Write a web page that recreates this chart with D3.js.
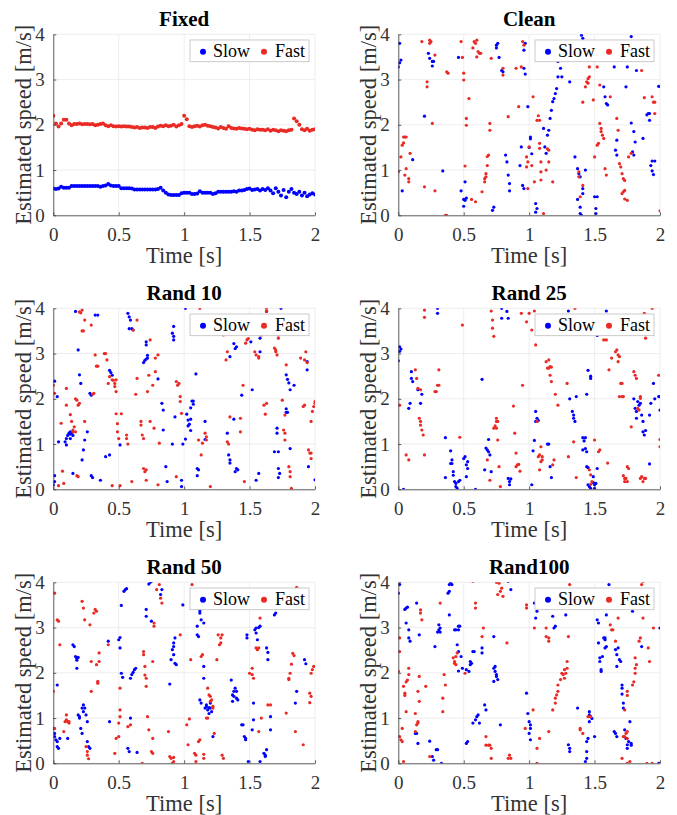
<!DOCTYPE html>
<html>
<head>
  <meta charset="utf-8">
  <title>speed-scatter</title>
  <style>
    body { margin: 0; background: #fff; }
    text { font-family: "Liberation Serif", serif; }
    .axis path, .axis line { stroke: #3a3a3a; stroke-width: 0.8; }
    .axis text { fill: #333; font-size: 19px; font-family: "Liberation Serif", serif; }
  </style>
  <script src="https://cdn.jsdelivr.net/npm/d3@7"></script>
</head>
<body>
<script type="text/javascript">

  // ---- data ----
  var xTicks = [0, 0.5, 1, 1.5, 2];
  var yTicks = [0, 1, 2, 3, 4];
  var seriesNames = ["Slow", "Fast"];
  var seriesColors = ["#0000ff", "#ea2a24"];

  // Fixed: sampled time [s] and both speeds [m/s]
  var fixedTime = [0,0.02,0.04,0.06,0.08,0.1,0.12,0.14,0.16,0.18,0.2,0.22,0.24,0.26,0.28,0.3,0.32,0.34,0.36,0.38,
    0.4,0.42,0.44,0.46,0.48,0.5,0.52,0.54,0.56,0.58,0.6,0.62,0.64,0.66,0.68,0.7,0.72,0.74,0.76,0.78,
    0.8,0.82,0.84,0.86,0.88,0.9,0.92,0.94,0.96,0.98,1,1.02,1.04,1.06,1.08,1.1,1.12,1.14,1.16,1.18,
    1.2,1.22,1.24,1.26,1.28,1.3,1.32,1.34,1.36,1.38,1.4,1.42,1.44,1.46,1.48,1.5,1.52,1.54,1.56,1.58,
    1.6,1.62,1.64,1.66,1.68,1.7,1.72,1.74,1.76,1.78,1.8,1.82,1.84,1.86,1.88,1.9,1.92,1.94,1.96,1.98,2];
  var fixedFast = [2.20,2.03,1.96,2.03,2.11,2.11,2.03,1.99,2.02,2.02,2.03,2.01,2.02,2.02,2.01,2.02,1.99,2.00,2.02,2.03,
    1.99,1.97,1.99,1.97,1.96,1.97,1.96,1.97,1.96,1.96,1.95,1.94,1.95,1.93,1.94,1.94,1.93,1.95,1.95,1.93,
    1.96,1.98,1.97,1.99,1.97,1.98,2.00,1.96,1.99,2.02,2.20,2.12,1.97,1.95,1.97,1.98,1.96,1.99,2.00,1.98,
    1.97,1.95,1.94,1.92,1.95,1.93,1.91,1.97,1.93,1.92,1.91,1.93,1.92,1.91,1.90,1.91,1.89,1.88,1.90,1.89,
    1.89,1.88,1.90,1.87,1.89,1.88,1.86,1.88,1.87,1.86,1.88,1.89,2.14,2.08,2.00,1.90,1.88,1.91,1.87,1.89,1.90];
  var fixedSlow = [0.59,0.58,0.59,0.63,0.61,0.61,0.61,0.65,0.65,0.65,0.65,0.65,0.65,0.65,0.65,0.65,0.65,0.65,0.63,0.65,
    0.66,0.69,0.66,0.65,0.65,0.65,0.60,0.60,0.60,0.60,0.59,0.57,0.57,0.57,0.57,0.57,0.57,0.57,0.57,0.57,
    0.58,0.61,0.55,0.50,0.46,0.45,0.45,0.45,0.45,0.49,0.50,0.50,0.50,0.47,0.47,0.48,0.53,0.50,0.50,0.50,
    0.50,0.47,0.49,0.52,0.52,0.52,0.52,0.52,0.52,0.53,0.52,0.55,0.55,0.56,0.58,0.59,0.56,0.57,0.58,0.55,
    0.58,0.56,0.60,0.55,0.49,0.60,0.52,0.44,0.56,0.40,0.52,0.58,0.50,0.47,0.52,0.44,0.50,0.42,0.46,0.49,0.46];

  // scatter panels: [time, speed]
  var cleanSlow = [[0.01,3.80],[0.00,3.28],[0.01,3.37],[0.02,3.43],[0.03,0.54],[0.11,1.23],[0.20,2.19],[0.23,3.58],[0.24,3.47],[0.26,3.40],
    [0.26,3.30],[0.27,3.40],[0.34,0.98],[0.46,3.49],[0.48,0.54],[0.50,0.35],[0.50,0.20],[0.51,0.74],[0.51,0.33],[0.52,0.38],
    [0.72,0.11],[0.73,0.18],[0.75,3.70],[0.75,3.76],[0.76,3.80],[0.77,3.49],[0.79,3.20],[0.80,3.17],[0.82,1.33],[0.83,1.18],
    [0.84,0.89],[0.85,0.70],[0.85,0.54],[0.93,1.10],[0.94,1.51],[0.95,0.66],[0.96,0.59],[0.96,3.65],[0.97,3.80],[0.96,3.25],
    [0.97,3.12],[0.99,2.40],[1.00,1.50],[1.01,1.73],[1.01,1.69],[1.02,1.36],[1.05,0.07],[1.05,0.26],[1.06,0.15],[1.11,1.92],
    [1.13,1.37],[1.12,1.51],[1.14,1.77],[1.15,1.88],[1.16,2.14],[1.17,2.32],[1.18,2.51],[1.19,2.58],[1.20,2.69],[1.21,2.80],
    [1.22,3.06],[1.22,3.40],[1.24,3.25],[1.25,3.06],[1.31,2.95],[1.35,1.29],[1.37,1.03],[1.38,0.92],[1.39,0.85],[1.37,0.35],
    [1.39,0.18],[1.39,0.04],[1.40,0.00],[1.41,0.48],[1.41,0.59],[1.43,1.00],[1.40,3.98],[1.41,3.91],[1.50,0.41],[1.51,0.15],
    [1.51,0.04],[1.52,0.41],[1.57,2.84],[1.58,2.62],[1.59,2.47],[1.60,2.44],[1.65,3.28],[1.66,1.44],[1.67,1.66],[1.67,1.33],
    [1.74,2.84],[1.75,3.28],[1.78,3.95],[1.78,2.04],[1.80,1.85],[1.81,1.62],[1.82,3.20],[1.80,1.33],[1.79,1.40],[1.87,1.70],
    [1.90,2.22],[1.91,2.25],[1.92,2.25],[1.92,2.10],[1.93,1.10],[1.94,1.20],[1.94,0.98],[1.95,0.90],[1.96,1.20],[1.99,2.85]];
  var cleanFast = [[0.00,0.96],[0.02,1.29],[0.03,1.55],[0.04,1.73],[0.05,1.73],[0.06,1.73],[0.04,1.60],[0.05,0.89],[0.06,1.03],[0.08,0.74],
    [0.08,0.81],[0.09,1.37],[0.18,3.84],[0.20,0.63],[0.22,2.95],[0.22,2.84],[0.24,3.87],[0.25,3.84],[0.24,3.80],[0.26,2.03],
    [0.28,3.54],[0.28,0.54],[0.37,3.17],[0.38,3.14],[0.36,0.00],[0.37,0.00],[0.48,3.84],[0.49,3.49],[0.50,3.14],[0.50,2.99],
    [0.51,1.09],[0.52,2.14],[0.52,1.99],[0.54,2.58],[0.56,0.35],[0.59,0.30],[0.57,3.70],[0.58,3.84],[0.59,3.80],[0.60,3.87],
    [0.60,3.50],[0.61,3.62],[0.62,3.58],[0.63,3.58],[0.64,0.52],[0.66,0.74],[0.66,0.81],[0.67,0.85],[0.67,0.92],[0.68,1.10],
    [0.68,1.30],[0.69,1.33],[0.70,1.88],[0.70,2.03],[0.71,3.47],[0.80,3.25],[0.80,3.10],[0.84,2.18],[0.90,3.25],[0.92,2.40],
    [0.94,3.28],[0.95,3.84],[0.96,3.76],[0.98,1.29],[0.99,1.18],[0.98,1.07],[0.99,0.59],[1.00,1.51],[1.02,1.10],[1.03,2.62],
    [1.04,0.74],[1.06,2.10],[1.07,2.20],[1.08,2.10],[1.08,1.48],[1.08,1.59],[1.09,1.18],[1.09,0.96],[1.09,0.78],[1.11,0.04],
    [1.13,1.00],[1.14,1.47],[1.15,1.44],[1.15,1.18],[1.18,0.74],[1.38,0.96],[1.38,0.85],[1.39,0.41],[1.41,0.66],[1.41,2.50],
    [1.43,2.84],[1.44,2.95],[1.45,2.92],[1.45,3.02],[1.46,3.06],[1.46,3.28],[1.49,2.55],[1.50,1.29],[1.52,3.28],[1.52,1.55],
    [1.53,1.59],[1.54,2.88],[1.54,2.03],[1.55,1.92],[1.55,1.85],[1.56,1.77],[1.57,1.70],[1.58,1.03],[1.59,0.89],[1.62,2.62],
    [1.67,2.14],[1.68,1.88],[1.69,1.14],[1.70,1.07],[1.71,0.92],[1.72,0.81],[1.73,0.77],[1.71,0.48],[1.72,0.52],[1.73,0.55],
    [1.73,0.36],[1.75,0.33],[1.78,1.37],[1.76,1.29],[1.86,3.20],[1.88,2.60],[1.94,2.62],[1.95,2.50],[1.96,2.50],[1.96,2.25],[2.00,0.10]];

  var rand10Slow = [[0.00,0.10],[0.01,0.17],[0.01,0.30],[0.01,2.39],[0.03,2.05],[0.04,1.05],[0.09,1.05],[0.10,0.98],[0.10,1.12],[0.11,1.19],
    [0.12,1.24],[0.13,1.22],[0.13,1.27],[0.14,1.24],[0.15,1.19],[0.13,1.12],[0.15,0.35],[0.17,3.93],[0.19,3.08],[0.20,2.53],
    [0.21,2.34],[0.22,0.65],[0.23,0.87],[0.24,1.09],[0.26,1.27],[0.28,2.12],[0.29,2.08],[0.29,0.30],[0.30,0.26],[0.32,3.85],
    [0.34,3.85],[0.36,0.20],[0.40,0.72],[0.43,0.76],[0.43,2.63],[0.44,2.58],[0.45,2.52],[0.51,0.98],[0.57,3.89],[0.58,3.81],
    [0.59,3.74],[0.58,3.55],[0.60,3.55],[0.61,3.52],[0.69,2.80],[0.71,2.88],[0.72,2.96],[0.72,2.90],[0.70,2.85],[0.71,3.19],
    [0.71,3.26],[0.80,2.44],[0.83,1.90],[0.84,1.75],[0.84,1.31],[0.86,0.50],[0.87,0.17],[0.91,1.00],[0.92,3.60],[0.91,3.45],
    [0.92,3.38],[0.92,3.30],[0.93,1.60],[0.98,0.06],[0.98,0.20],[0.99,1.00],[1.01,1.11],[1.01,4.00],[1.02,1.66],[1.03,1.53],
    [1.03,1.40],[1.04,1.44],[1.05,1.55],[1.05,1.30],[1.05,1.80],[1.06,1.95],[1.07,1.88],[1.07,1.95],[1.09,2.55],[1.10,0.30],
    [1.10,0.46],[1.11,0.43],[1.16,1.10],[1.16,1.50],[1.33,1.24],[1.34,0.76],[1.35,0.65],[1.35,0.58],[1.35,2.93],[1.38,3.22],
    [1.39,3.11],[1.40,3.15],[1.38,1.55],[1.40,0.46],[1.41,0.43],[1.39,0.39],[1.44,2.08],[1.52,2.20],[1.51,3.26],[1.55,0.20],
    [1.57,0.35],[1.58,3.04],[1.58,3.34],[1.59,3.45],[1.62,3.52],[1.63,3.93],[1.69,0.83],[1.71,1.24],[1.72,0.83],[1.71,1.35],
    [1.72,0.46],[1.72,0.26],[1.73,0.35],[1.74,4.00],[1.78,2.53],[1.79,2.43],[1.80,2.35],[1.81,2.20],[1.78,1.70],[1.79,1.70],
    [1.78,1.78],[1.81,0.90],[1.84,2.30],[1.94,2.64],[1.94,2.82],[1.95,0.50],[2.00,0.21]];
  var rand10Fast = [[0.00,2.30],[0.01,2.12],[0.04,0.08],[0.07,0.40],[0.06,1.46],[0.08,0.13],[0.10,1.86],[0.10,2.23],[0.13,1.65],[0.14,1.50],
    [0.15,1.31],[0.15,1.27],[0.16,1.38],[0.17,1.27],[0.17,2.00],[0.18,1.97],[0.19,1.86],[0.20,1.90],[0.18,0.30],[0.19,0.28],
    [0.20,3.92],[0.22,3.96],[0.21,3.90],[0.22,3.50],[0.23,3.50],[0.24,3.74],[0.24,1.50],[0.29,3.63],[0.30,2.10],[0.31,2.12],
    [0.32,2.97],[0.33,2.72],[0.34,2.72],[0.39,3.00],[0.40,3.00],[0.41,2.86],[0.42,2.34],[0.43,2.49],[0.45,2.42],[0.46,2.41],
    [0.47,2.34],[0.47,2.27],[0.48,2.42],[0.48,2.16],[0.45,0.08],[0.51,0.08],[0.48,1.67],[0.49,1.45],[0.49,1.27],[0.50,1.12],
    [0.52,1.67],[0.56,1.20],[0.56,1.12],[0.57,1.00],[0.60,0.17],[0.61,3.52],[0.64,3.74],[0.63,2.10],[0.64,2.45],[0.67,1.50],
    [0.67,1.42],[0.68,1.20],[0.69,1.12],[0.69,0.46],[0.70,0.39],[0.71,0.43],[0.71,0.20],[0.72,2.16],[0.73,2.52],[0.74,1.50],
    [0.74,3.30],[0.76,2.30],[0.77,1.35],[0.78,2.60],[0.78,2.90],[0.80,2.97],[0.80,0.10],[0.81,1.02],[0.94,0.28],[0.94,2.38],
    [0.95,2.30],[0.96,2.34],[0.97,2.05],[0.97,1.94],[0.98,1.68],[1.11,1.09],[1.14,1.02],[1.12,4.00],[1.13,0.76],[1.16,1.24],
    [1.17,1.16],[1.17,1.09],[1.20,0.06],[1.30,3.41],[1.32,2.86],[1.33,3.04],[1.33,1.05],[1.34,1.00],[1.35,1.60],[1.43,1.57],
    [1.43,1.27],[1.45,2.30],[1.46,0.17],[1.47,3.23],[1.48,3.30],[1.49,3.33],[1.54,3.04],[1.55,2.97],[1.57,2.93],[1.57,2.90],
    [1.59,3.41],[1.61,3.48],[1.61,1.86],[1.63,1.90],[1.62,1.66],[1.63,4.00],[1.63,3.93],[1.69,3.12],[1.70,3.04],[1.70,3.08],
    [1.71,2.97],[1.72,3.41],[1.72,3.34],[1.76,1.31],[1.77,1.24],[1.77,1.09],[1.75,1.97],[1.77,1.64],[1.78,2.75],[1.80,0.50],
    [1.81,0.39],[1.81,0.28],[1.82,0.02],[1.89,2.90],[1.91,1.83],[1.92,1.86],[1.92,2.86],[1.94,2.80],[1.93,3.04],[1.95,0.87],
    [1.96,0.80],[1.97,0.68],[1.97,0.80],[1.97,1.50],[1.98,1.72],[1.99,1.83],[2.00,1.90],[2.00,1.94]];

  var rand25Slow = [[0.00,2.84],[0.01,3.05],[0.01,3.15],[0.02,3.10],[0.04,0.00],[0.08,1.79],[0.09,1.90],[0.10,2.45],[0.10,2.60],[0.11,2.38],
    [0.15,2.20],[0.17,1.90],[0.18,2.10],[0.30,4.00],[0.30,3.89],[0.36,0.26],[0.36,1.14],[0.40,0.85],[0.41,0.65],[0.40,0.57],
    [0.41,0.57],[0.42,0.39],[0.42,0.31],[0.43,0.17],[0.44,0.13],[0.44,0.06],[0.45,0.02],[0.46,0.17],[0.47,0.20],[0.50,0.68],
    [0.51,0.72],[0.52,0.54],[0.53,0.46],[0.52,0.28],[0.53,0.61],[0.59,0.00],[0.64,2.43],[0.66,0.43],[0.67,0.91],[0.68,0.87],
    [0.69,1.10],[0.69,0.83],[0.70,0.76],[0.71,0.39],[0.79,4.00],[0.79,3.78],[0.83,3.93],[0.84,3.78],[0.84,0.24],[0.85,0.17],
    [0.85,0.10],[0.86,0.23],[1.02,0.10],[1.03,0.85],[1.04,1.08],[1.05,1.50],[1.05,1.72],[1.06,1.57],[1.06,1.50],[1.07,1.52],
    [1.14,1.00],[1.15,1.00],[1.16,0.50],[1.17,0.26],[1.30,3.94],[1.31,2.00],[1.33,1.72],[1.34,1.64],[1.34,1.57],[1.35,1.50],
    [1.36,2.05],[1.41,1.14],[1.42,1.07],[1.43,1.14],[1.41,0.87],[1.43,0.90],[1.44,0.83],[1.44,0.50],[1.45,0.48],[1.44,2.10],
    [1.45,2.63],[1.47,2.50],[1.47,2.45],[1.45,0.10],[1.46,0.06],[1.47,0.02],[1.49,0.15],[1.49,0.28],[1.50,0.10],[1.50,0.02],
    [1.51,0.13],[1.52,0.46],[1.52,3.40],[1.59,3.94],[1.80,2.00],[1.81,1.79],[1.82,1.57],[1.82,1.72],[1.83,1.94],[1.84,1.86],
    [1.85,1.90],[1.86,1.64],[1.87,1.50],[1.87,1.27],[1.88,1.20],[1.89,1.30],[1.92,1.64],[1.93,1.90],[1.95,2.34],[1.96,2.00],
    [1.92,0.56],[1.99,2.05],[2.00,2.05],[2.00,1.75]];
  var rand25Fast = [[0.01,1.86],[0.06,0.76],[0.08,0.65],[0.13,2.64],[0.14,2.45],[0.15,2.23],[0.17,2.20],[0.16,1.57],[0.17,1.50],[0.17,1.42],
    [0.18,1.31],[0.19,1.20],[0.20,0.76],[0.20,3.96],[0.20,3.80],[0.28,2.16],[0.29,2.16],[0.30,2.30],[0.31,2.30],[0.31,2.64],
    [0.47,1.15],[0.49,3.63],[0.68,0.65],[0.70,0.20],[0.71,3.94],[0.72,3.74],[0.72,3.56],[0.73,3.38],[0.73,1.35],[0.74,1.40],
    [0.75,1.50],[0.75,1.57],[0.76,1.50],[0.75,1.35],[0.76,1.09],[0.77,0.50],[0.78,0.06],[0.88,1.84],[0.89,1.24],[0.90,0.80],
    [0.90,0.50],[0.91,0.54],[0.92,0.55],[0.93,0.40],[0.94,3.89],[0.95,2.30],[0.98,3.70],[1.00,3.89],[1.02,3.52],[1.04,3.94],
    [1.05,3.19],[1.06,1.50],[1.07,0.72],[1.08,0.76],[1.09,0.61],[1.10,0.72],[1.10,0.65],[1.08,0.43],[1.09,0.94],[1.13,2.82],
    [1.14,2.68],[1.15,2.68],[1.16,2.71],[1.17,2.70],[1.16,2.52],[1.17,2.38],[1.15,2.86],[1.18,0.54],[1.19,0.65],[1.20,2.10],
    [1.22,1.86],[1.30,0.72],[1.29,2.34],[1.34,1.05],[1.35,4.00],[1.36,0.26],[1.46,0.43],[1.47,0.32],[1.48,0.17],[1.47,0.11],
    [1.50,1.09],[1.53,0.83],[1.54,0.87],[1.57,3.30],[1.59,3.30],[1.60,0.58],[1.61,2.64],[1.63,2.90],[1.66,3.04],[1.67,3.08],
    [1.68,2.97],[1.69,2.93],[1.68,2.82],[1.70,2.34],[1.71,2.34],[1.69,2.05],[1.71,2.05],[1.72,2.05],[1.72,0.30],[1.73,0.24],
    [1.73,0.17],[1.74,0.24],[1.75,0.17],[1.75,0.50],[1.76,0.46],[1.78,1.38],[1.80,2.60],[1.81,2.52],[1.82,2.45],[1.83,1.79],
    [1.84,1.75],[1.85,2.05],[1.85,2.01],[1.85,0.24],[1.86,0.28],[1.87,0.17],[1.88,0.24],[1.89,0.24],[1.89,3.34],[1.88,3.89],
    [1.94,4.00],[1.99,2.52],[2.00,1.10],[2.00,0.94]];

  var rand50Slow = [[0.00,0.77],[0.01,0.66],[0.01,0.59],[0.02,0.52],[0.03,0.48],[0.04,0.33],[0.03,0.37],[0.03,1.73],[0.05,0.55],[0.11,0.55],
    [0.15,2.62],[0.16,2.58],[0.17,2.36],[0.18,2.32],[0.19,2.34],[0.18,2.28],[0.18,2.10],[0.19,1.07],[0.20,1.03],[0.20,1.00],
    [0.21,0.77],[0.22,0.66],[0.22,1.22],[0.23,1.14],[0.23,1.29],[0.24,1.22],[0.25,1.07],[0.26,0.92],[0.26,0.48],[0.27,0.37],
    [0.28,0.33],[0.43,0.92],[0.42,2.70],[0.52,3.49],[0.50,2.73],[0.51,2.78],[0.51,2.55],[0.52,1.99],[0.53,1.90],[0.54,3.80],
    [0.55,3.84],[0.56,3.86],[0.57,0.33],[0.58,0.26],[0.59,1.00],[0.59,1.88],[0.60,1.96],[0.61,2.01],[0.62,2.07],[0.63,2.10],
    [0.64,0.24],[0.71,3.40],[0.71,3.25],[0.73,3.96],[0.74,4.00],[0.75,4.02],[0.75,3.14],[0.83,3.84],[0.82,3.73],[0.89,1.75],
    [0.90,2.29],[0.91,2.51],[0.92,2.58],[0.92,2.66],[0.93,2.77],[0.92,2.40],[0.93,2.21],[0.94,2.18],[0.99,3.50],[1.10,2.84],
    [1.10,3.03],[1.11,2.80],[1.12,3.32],[1.12,3.37],[1.13,3.17],[1.15,3.10],[1.12,1.40],[1.13,1.33],[1.15,2.14],[1.15,1.88],
    [1.16,1.22],[1.17,1.25],[1.17,1.29],[1.18,1.18],[1.19,1.10],[1.19,1.23],[1.20,1.33],[1.20,1.22],[1.21,1.14],[1.22,0.59],
    [1.36,1.84],[1.37,1.51],[1.38,1.48],[1.37,1.37],[1.38,1.59],[1.39,1.66],[1.40,1.59],[1.40,1.44],[1.41,1.40],[1.44,0.85],
    [1.45,0.85],[1.46,0.59],[1.47,0.52],[1.47,0.55],[1.48,2.77],[1.48,2.84],[1.49,0.04],[1.52,0.74],[1.53,0.96],[1.53,1.33],
    [1.54,2.95],[1.55,2.99],[1.55,2.88],[1.56,2.73],[1.57,3.00],[1.58,3.03],[1.58,0.04],[1.61,0.22],[1.62,0.18],[1.63,0.30],
    [1.62,0.15],[1.63,2.55],[1.64,2.45],[1.64,2.29],[1.66,0.74],[1.66,1.03],[1.69,3.28],[1.70,3.32],[1.85,1.33],[1.86,1.59],
    [1.92,2.29],[1.93,2.20]];
  var rand50Fast = [[0.00,1.59],[0.01,3.76],[0.01,0.77],[0.03,3.17],[0.04,3.14],[0.05,2.62],[0.08,0.70],[0.09,0.92],[0.10,0.96],[0.10,1.07],
    [0.11,0.92],[0.12,0.89],[0.12,0.92],[0.22,3.58],[0.23,3.43],[0.24,3.17],[0.25,0.37],[0.26,0.18],[0.27,0.10],[0.26,0.26],
    [0.28,3.06],[0.29,1.59],[0.29,2.25],[0.31,3.32],[0.32,3.40],[0.33,3.36],[0.33,2.18],[0.34,1.81],[0.34,1.77],[0.35,2.25],
    [0.35,2.44],[0.42,2.62],[0.47,0.22],[0.48,0.55],[0.50,0.59],[0.50,0.89],[0.51,1.03],[0.51,1.18],[0.51,1.66],[0.57,0.81],
    [0.59,0.85],[0.68,0.00],[0.69,2.40],[0.69,2.47],[0.70,2.14],[0.70,1.95],[0.71,1.88],[0.71,1.70],[0.72,1.03],[0.73,0.74],
    [0.75,0.26],[0.76,0.22],[0.76,2.25],[0.76,0.55],[0.77,3.03],[0.77,3.10],[0.79,3.84],[0.81,3.95],[0.82,3.65],[0.83,3.54],
    [0.88,0.70],[0.89,0.15],[0.90,0.11],[0.91,0.00],[0.92,0.04],[0.92,0.13],[0.97,2.84],[1.02,0.85],[1.03,0.41],[1.04,0.98],
    [1.05,2.29],[1.06,3.95],[1.08,0.22],[1.09,0.04],[1.09,0.18],[1.11,0.48],[1.12,0.52],[1.13,2.36],[1.14,2.40],[1.15,0.20],
    [1.15,0.11],[1.17,1.00],[1.18,1.00],[1.18,1.66],[1.19,1.51],[1.20,1.37],[1.20,1.48],[1.21,1.40],[1.22,1.22],[1.22,1.26],
    [1.23,0.66],[1.25,2.29],[1.26,2.84],[1.27,2.62],[1.28,2.66],[1.28,2.77],[1.29,2.84],[1.29,0.18],[1.30,0.11],[1.50,1.99],
    [1.52,1.96],[1.53,1.88],[1.52,2.10],[1.55,2.55],[1.56,2.51],[1.57,2.55],[1.58,3.21],[1.59,1.00],[1.57,0.70],[1.64,1.29],
    [1.66,1.29],[1.78,1.11],[1.80,1.88],[1.80,1.85],[1.81,1.99],[1.82,2.19],[1.83,2.43],[1.84,2.38],[1.85,0.70],[1.86,3.89],
    [1.91,0.41],[1.96,1.55],[1.97,1.48],[1.96,1.34],[1.97,1.99],[1.98,2.07],[1.99,2.14]];

  var rand100Slow = [[0.00,3.76],[0.01,3.95],[0.05,3.40],[0.06,3.43],[0.07,3.45],[0.06,3.10],[0.08,2.95],[0.08,2.77],[0.09,2.70],[0.13,0.66],
    [0.14,0.66],[0.14,3.54],[0.15,0.44],[0.16,2.84],[0.24,0.49],[0.26,0.15],[0.27,0.07],[0.28,2.58],[0.29,0.30],[0.30,0.30],
    [0.30,2.90],[0.31,3.06],[0.31,2.95],[0.32,2.90],[0.32,2.99],[0.33,0.00],[0.38,3.76],[0.39,3.80],[0.39,3.95],[0.40,3.98],
    [0.41,3.95],[0.39,3.28],[0.43,2.95],[0.44,2.95],[0.46,3.03],[0.46,2.95],[0.47,3.03],[0.45,2.62],[0.46,2.04],[0.46,2.47],
    [0.48,2.36],[0.49,2.10],[0.52,2.07],[0.52,0.44],[0.53,0.48],[0.54,2.03],[0.55,2.25],[0.56,2.21],[0.55,2.18],[0.57,2.47],
    [0.58,2.47],[0.57,0.89],[0.59,0.96],[0.60,1.03],[0.61,1.07],[0.62,0.89],[0.64,2.55],[0.64,2.44],[0.66,1.29],[0.67,1.18],
    [0.73,2.80],[0.73,2.10],[0.74,2.14],[0.74,2.03],[0.75,1.96],[0.75,1.92],[0.73,1.81],[0.76,1.85],[0.78,0.85],[0.84,4.02],
    [0.86,3.84],[0.98,1.55],[0.99,1.10],[1.00,0.92],[1.01,0.77],[1.01,0.52],[1.00,0.66],[1.01,0.85],[1.04,3.54],[1.05,3.21],
    [1.06,3.36],[1.13,3.43],[1.17,3.50],[1.18,3.25],[1.19,2.99],[1.20,3.03],[1.28,3.28],[1.30,0.41],[1.31,0.33],[1.31,0.26],
    [1.37,1.22],[1.43,0.04],[1.44,0.11],[1.44,0.48],[1.44,0.26],[1.45,0.55],[1.46,1.14],[1.46,1.07],[1.47,1.03],[1.48,0.99],
    [1.46,0.92],[1.50,0.59],[1.52,3.17],[1.53,3.10],[1.53,2.66],[1.54,2.33],[1.55,2.07],[1.55,2.03],[1.54,2.25],[1.56,2.36],
    [1.57,2.77],[1.58,2.77],[1.58,2.73],[1.58,2.55],[1.59,2.58],[1.59,3.28],[1.61,3.95],[1.65,0.70],[1.66,0.66],[1.67,0.59],
    [1.66,2.51],[1.67,2.40],[1.68,2.55],[1.69,2.29],[1.70,2.25],[1.67,2.14],[1.71,1.73],[1.71,1.66],[1.72,1.33],[1.72,1.22],
    [1.71,1.53],[1.73,0.74],[1.74,0.55],[1.75,0.41],[1.75,0.33],[1.76,0.48],[1.77,0.92],[1.78,0.44],[1.78,0.40],[1.79,3.36],
    [1.86,2.58],[1.99,0.00],[2.00,2.99]];
  var rand100Fast = [[0.00,2.03],[0.01,2.77],[0.01,2.47],[0.01,0.59],[0.02,0.52],[0.03,0.48],[0.03,0.77],[0.04,0.04],[0.04,1.70],[0.05,1.55],
    [0.05,1.50],[0.06,1.14],[0.06,1.80],[0.07,1.84],[0.08,1.96],[0.08,2.10],[0.13,0.70],[0.13,1.10],[0.14,0.85],[0.15,0.92],
    [0.15,0.89],[0.15,1.59],[0.16,1.37],[0.16,1.92],[0.17,3.39],[0.17,3.32],[0.18,3.17],[0.21,1.70],[0.24,0.15],[0.32,3.54],
    [0.34,1.44],[0.34,1.14],[0.35,1.96],[0.36,1.73],[0.42,2.33],[0.43,2.25],[0.44,2.36],[0.45,2.44],[0.43,2.21],[0.44,2.18],
    [0.51,1.99],[0.57,4.02],[0.59,3.43],[0.59,3.54],[0.64,2.80],[0.65,2.99],[0.67,0.59],[0.67,0.40],[0.69,0.40],[0.70,0.40],
    [0.71,0.33],[0.71,0.11],[0.75,4.00],[0.76,3.73],[0.78,3.80],[0.79,3.87],[0.80,3.69],[0.77,3.98],[0.83,2.66],[0.84,0.11],
    [0.85,0.18],[0.86,0.11],[0.97,0.77],[0.98,3.43],[0.98,3.50],[1.04,2.99],[1.03,1.18],[1.06,0.33],[1.08,0.55],[1.06,0.00],
    [1.15,0.70],[1.13,2.99],[1.13,2.80],[1.15,2.77],[1.15,2.70],[1.18,1.18],[1.20,1.33],[1.20,1.44],[1.21,1.51],[1.22,1.59],
    [1.22,1.73],[1.24,1.85],[1.25,1.99],[1.26,1.96],[1.27,2.07],[1.27,1.88],[1.28,1.99],[1.29,2.25],[1.29,2.10],[1.30,2.80],
    [1.31,3.95],[1.39,0.74],[1.39,0.77],[1.41,0.66],[1.45,1.03],[1.47,1.03],[1.62,3.06],[1.63,2.95],[1.64,2.95],[1.66,2.70],
    [1.68,3.21],[1.71,0.11],[1.72,0.59],[1.73,0.59],[1.74,0.66],[1.75,0.55],[1.75,0.70],[1.73,1.18],[1.75,1.50],[1.75,1.59],
    [1.75,0.00],[1.77,0.04],[1.79,1.73],[1.80,1.80],[1.81,1.99],[1.81,2.10],[1.81,2.33],[1.82,2.18],[1.84,2.70],[1.85,2.77],
    [1.86,3.95],[1.87,4.02],[1.87,3.21],[1.89,3.84],[1.90,0.00],[1.94,0.00],[1.91,2.55],[1.92,2.25],[1.95,2.99]];

  var panelTitles = ["Fixed", "Clean", "Rand 10", "Rand 25", "Rand 50", "Rand100"];
  var panelSlow = [fixedTime.map(function(t, i) { return [t, fixedSlow[i]]; }), cleanSlow, rand10Slow, rand25Slow, rand50Slow, rand100Slow];
  var panelFast = [fixedTime.map(function(t, i) { return [t, fixedFast[i]]; }), cleanFast, rand10Fast, rand25Fast, rand50Fast, rand100Fast];

  // ---- layout ----
  var colLeft = [53.3, 398.3];
  var rowTop = [34.3, 308.3, 582.3];
  var width = 261.7, height = 181;

  var svg = d3.select("body").append("svg")
    .attr("width", 677)
    .attr("height", 815);

  var x = d3.scaleLinear().domain([0, 2]).range([0, width]);
  var y = d3.scaleLinear().domain([0, 4]).range([height, 0]);

  svg.append("defs").append("clipPath").attr("id", "plotclip")
    .append("rect").attr("x", 0).attr("y", 0).attr("width", width).attr("height", height);

  panelTitles.forEach(function(title, p) {
    var g = svg.append("g")
      .attr("transform", "translate(" + colLeft[p % 2] + "," + rowTop[Math.floor(p / 2)] + ")");

    // grid
    g.append("g").selectAll("line").data(xTicks).enter().append("line")
      .attr("x1", function(d) { return x(d); }).attr("x2", function(d) { return x(d); })
      .attr("y1", 0).attr("y2", height)
      .attr("stroke", "#e6e6e6").attr("stroke-width", 0.7);
    g.append("g").selectAll("line").data(yTicks).enter().append("line")
      .attr("y1", function(d) { return y(d); }).attr("y2", function(d) { return y(d); })
      .attr("x1", 0).attr("x2", width)
      .attr("stroke", "#e6e6e6").attr("stroke-width", 0.7);

    // points (the Fixed run is sampled densely, so its dots merge into a line)
    var r = p === 0 ? 2 : 1.6;
    var pts = g.append("g").attr("clip-path", "url(#plotclip)");
    [panelSlow[p], panelFast[p]].forEach(function(series, s) {
      pts.selectAll(".s" + s).data(series).enter().append("circle")
        .attr("class", "s" + s)
        .attr("cx", function(d) { return x(d[0]); })
        .attr("cy", function(d) { return y(d[1]); })
        .attr("r", r)
        .attr("fill", seriesColors[s]);
    });

    // axes
    g.append("g")
      .attr("class", "axis")
      .attr("transform", "translate(0," + height + ")")
      .call(d3.axisBottom(x).tickValues(xTicks).tickFormat(function(d) { return d; })
        .tickSizeInner(-3).tickSizeOuter(0).tickPadding(12));
    g.append("g")
      .attr("class", "axis")
      .call(d3.axisLeft(y).tickValues(yTicks).tickFormat(function(d) { return d; })
        .tickSizeInner(-3).tickSizeOuter(0).tickPadding(8.5));

    // labels
    g.append("text")
      .attr("x", width / 2).attr("y", -8)
      .attr("text-anchor", "middle")
      .style("font-size", "21px").style("font-weight", "bold").attr("fill", "#000")
      .text(title);
    g.append("text")
      .attr("x", width / 2).attr("y", height + 48)
      .attr("text-anchor", "middle")
      .style("font-size", "22.5px").attr("fill", "#333")
      .text("Time [s]");
    g.append("text")
      .attr("transform", "translate(-22.5," + (height / 2) + ") rotate(-90)")
      .attr("text-anchor", "middle")
      .style("font-size", "22.5px").attr("fill", "#333")
      .text("Estimated speed [m/s]");

    // legend
    var lg = g.append("g").attr("transform", "translate(136.7,5.7)");
    lg.append("rect")
      .attr("width", 119).attr("height", 21.7)
      .attr("fill", "#fff").attr("stroke", "#bdbdbd").attr("stroke-width", 0.8);
    seriesNames.forEach(function(name, s) {
      lg.append("circle")
        .attr("cx", 13 + s * 61).attr("cy", 11.7).attr("r", 3)
        .attr("fill", seriesColors[s]);
      lg.append("text")
        .attr("x", 23 + s * 62).attr("y", 17.3)
        .style("font-size", "18px").attr("fill", "#000")
        .text(name);
    });
  });

</script>
</body>
</html>
